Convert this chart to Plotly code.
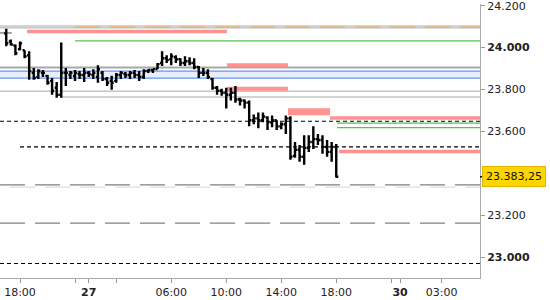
import plotly.graph_objects as go

# ---- OHLC data (20-minute bars, x in trading-hour units from 26th 18:00) ----
bar_x0 = -1.0
bar_step = 1.0 / 3.0
opens = [24.067, 24.029, 24.010, 23.992, 23.987, 23.963, 23.879, 23.860, 23.879, 23.865,
         23.841, 23.808, 23.775, 23.879, 23.869, 23.865, 23.874, 23.869, 23.879, 23.869,
         23.860, 23.879, 23.850, 23.841, 23.841, 23.869, 23.874, 23.869, 23.879, 23.869,
         23.860, 23.888, 23.893, 23.897, 23.926, 23.949, 23.944, 23.954, 23.944, 23.926,
         23.935, 23.926, 23.907, 23.879, 23.879, 23.850, 23.808, 23.794, 23.784, 23.775,
         23.784, 23.752, 23.747, 23.737, 23.653, 23.662, 23.653, 23.667, 23.643, 23.653,
         23.624, 23.634, 23.662, 23.483, 23.512, 23.479, 23.521, 23.549, 23.563, 23.559,
         23.526, 23.502, 23.526]
highs = [24.090, 24.039, 24.015, 24.029, 23.987, 23.982, 23.902, 23.897, 23.893, 23.869,
         23.855, 23.836, 24.024, 23.902, 23.888, 23.893, 23.888, 23.902, 23.888, 23.897,
         23.916, 23.888, 23.860, 23.865, 23.879, 23.888, 23.883, 23.888, 23.893, 23.888,
         23.897, 23.897, 23.897, 23.926, 23.982, 23.963, 23.973, 23.963, 23.949, 23.959,
         23.954, 23.949, 23.912, 23.902, 23.897, 23.855, 23.817, 23.803, 23.808, 23.808,
         23.817, 23.761, 23.752, 23.747, 23.681, 23.690, 23.690, 23.672, 23.676, 23.653,
         23.643, 23.676, 23.672, 23.549, 23.535, 23.582, 23.582, 23.624, 23.587, 23.582,
         23.559, 23.549, 23.540]
lows = [24.006, 24.010, 23.963, 23.987, 23.949, 23.846, 23.846, 23.850, 23.860, 23.822,
        23.775, 23.761, 23.761, 23.817, 23.850, 23.841, 23.850, 23.836, 23.860, 23.850,
        23.832, 23.841, 23.817, 23.799, 23.832, 23.850, 23.855, 23.850, 23.855, 23.841,
        23.850, 23.879, 23.879, 23.897, 23.912, 23.926, 23.916, 23.926, 23.912, 23.912,
        23.916, 23.897, 23.855, 23.864, 23.850, 23.799, 23.775, 23.770, 23.709, 23.747,
        23.737, 23.723, 23.709, 23.624, 23.634, 23.615, 23.643, 23.606, 23.620, 23.606,
        23.610, 23.587, 23.464, 23.474, 23.455, 23.441, 23.502, 23.516, 23.535, 23.493,
        23.479, 23.455, 23.380]
closes = [24.020, 24.015, 23.973, 24.020, 23.958, 23.888, 23.855, 23.888, 23.879, 23.832,
          23.794, 23.775, 23.879, 23.879, 23.879, 23.879, 23.869, 23.879, 23.874, 23.879,
          23.897, 23.850, 23.832, 23.832, 23.869, 23.879, 23.869, 23.879, 23.869, 23.860,
          23.888, 23.893, 23.897, 23.921, 23.949, 23.940, 23.958, 23.944, 23.926, 23.935,
          23.926, 23.907, 23.879, 23.879, 23.860, 23.808, 23.794, 23.784, 23.775, 23.784,
          23.752, 23.747, 23.737, 23.653, 23.662, 23.653, 23.671, 23.643, 23.653, 23.624,
          23.634, 23.662, 23.479, 23.512, 23.479, 23.521, 23.549, 23.563, 23.559, 23.526,
          23.502, 23.526, 23.383]
bar_x = [bar_x0 + i * bar_step for i in range(len(opens))]
last_price_text = "23.383,25"

# ---- x axis ticks ----
x_range = [-1.455, 33.455]
tick_vals = [0, 4, 5, 7, 11, 15, 19, 23, 27, 27.64, 30.67]
tick_text = ["18:00", "", "<b>27</b>", "", "06:00", "10:00", "14:00", "18:00", "", "<b>30</b>", "03:00"]

# ---- y axis ticks ----
y_range = [22.90, 24.208]
ytick_vals = [23.0, 23.2, 23.6, 23.8, 24.0, 24.2]
ytick_text = ["<b>23.000</b>", "23.200", "23.600", "23.800", "<b>24.000</b>", "24.200"]

# ---- horizontal levels ----
X0, X1 = x_range
gray_levels = [24.103, 24.094, 23.905, 23.792, 23.764]
gray_starts = [X0, X0, X0, X0, 2.91]
gray_widths = [1, 1, 2, 1, 1]
blue_levels = [23.888, 23.854]
orange_level = 24.098
orange_start = 4.0
green_levels = [24.032, 23.639, 23.618]
green_starts = [4.0, 23.05, 23.05]
pink_levels = [24.077, 23.916, 23.803, 23.694, 23.664, 23.504]
pink_starts = [0.51, 15.05, 15.05, 19.49, 22.55, 23.2]
pink_ends = [15.05, 19.49, 19.49, 22.55, X1, X1]
pink_widths = [3.5, 4, 4, 7, 3.5, 3.5]
black_dash_levels = [23.648, 23.526, 22.969]
black_dash_starts = [X0, 0.0, X0]
gray_dash_levels = [23.345, 23.162]
light_dash_level = 23.334
prev_close_level = 24.070

shapes = []
shapes.append(dict(type="rect", xref="x", yref="y", x0=X0, x1=X1,
                   y0=min(blue_levels), y1=max(blue_levels),
                   fillcolor="#E8EEFC", line=dict(width=0), layer="below"))


def hline(y, xs, xe, color, width, dash="solid"):
    shapes.append(dict(type="line", xref="x", yref="y", x0=xs, x1=xe, y0=y, y1=y,
                       line=dict(color=color, width=width, dash=dash), layer="below"))


for v, s, w in zip(gray_levels, gray_starts, gray_widths):
    hline(v, s, X1, "#A8A8A8", w)
for v in blue_levels:
    hline(v, X0, X1, "#6A96EC", 1.3)
hline(orange_level, orange_start, X1, "#F0B050", 1.2, "25px,10px")
for v, s in zip(green_levels, green_starts):
    hline(v, s, X1, "#55C055", 1.2)
for v, s, e, w in zip(pink_levels, pink_starts, pink_ends, pink_widths):
    hline(v, s, e, "#FF9191", w)
for v, s in zip(black_dash_levels, black_dash_starts):
    hline(v, s, X1, "#000000", 1.1, "4px,3px")
hline(light_dash_level, X0 + 0.75, X1, "#D4D4D4", 1, "25px,10px")
for v in gray_dash_levels:
    hline(v, X0, X1, "#808080", 1.2, "25px,10px")
hline(prev_close_level, X0, X0 + 0.85, "#A0A0A0", 2)

shapes.append(dict(type="line", xref="paper", yref="y", x0=1.0, x1=1.0 + 5 / 480,
                   y0=closes[-1], y1=closes[-1], line=dict(color="black", width=1.5)))

fig = go.Figure()
fig.add_trace(go.Ohlc(
    x=bar_x, open=opens, high=highs, low=lows, close=closes,
    increasing=dict(line=dict(color="black", width=2.4)),
    decreasing=dict(line=dict(color="black", width=2.4)),
    tickwidth=0.45, hoverinfo="skip", showlegend=False))

fig.add_annotation(xref="paper", yref="y", x=1.0, y=closes[-1], xanchor="left", yanchor="middle",
                   xshift=2, text=last_price_text, showarrow=False,
                   font=dict(family="DejaVu Sans", size=11, color="#111"),
                   bgcolor="#FFD500", bordercolor="#E0B400", borderwidth=1, borderpad=3)

fig.update_layout(
    width=550, height=300,
    margin=dict(l=0, r=70, t=0, b=22),
    paper_bgcolor="white", plot_bgcolor="white",
    shapes=shapes, showlegend=False,
    font=dict(family="DejaVu Sans", size=11, color="#222"),
)
fig.update_xaxes(range=x_range, rangeslider=dict(visible=False), showgrid=False, zeroline=False,
                 tickmode="array", tickvals=tick_vals, ticktext=tick_text,
                 ticks="outside", ticklen=4, tickcolor="#999",
                 showline=True, linecolor="#AAAAAA", linewidth=1)
fig.update_yaxes(range=y_range, side="right", showgrid=False, zeroline=False,
                 tickmode="array", tickvals=ytick_vals, ticktext=ytick_text,
                 ticks="outside", ticklen=4, tickcolor="#999", ticklabeloverflow="allow",
                 showline=True, linecolor="#AAAAAA", linewidth=1, mirror=False)

fig.write_html("out.html")
